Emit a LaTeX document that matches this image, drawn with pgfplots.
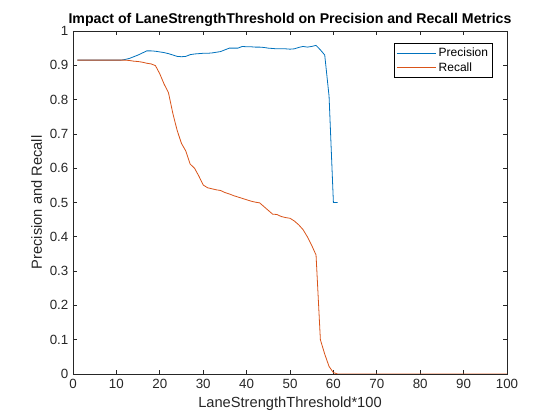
\documentclass[border=0pt]{standalone}
\usepackage{fontspec}
\setmainfont{Liberation Sans}
\usepackage{pgfplots}
\pgfplotsset{compat=1.18}
\definecolor{mblue}{rgb}{0,0.447,0.741}
\definecolor{morange}{rgb}{0.85,0.325,0.098}
\definecolor{axgray}{rgb}{0.15,0.15,0.15}
\begin{document}
\begin{tikzpicture}
\path[use as bounding box] (-54.75pt,-34.5pt) rectangle (365.25pt,280.5pt);
\begin{axis}[
  at={(0pt,0pt)}, anchor=south west,
  scale only axis, width=325.5pt, height=257.25pt,
  xmin=0, xmax=100, ymin=0, ymax=1,
  xtick={0,10,...,100},
  ytick={0,0.1,0.2,0.3,0.4,0.5,0.6,0.7,0.8,0.9,1},
  yticklabels={0,0.1,0.2,0.3,0.4,0.5,0.6,0.7,0.8,0.9,1},
  /pgf/number format/assume math mode=true,
  tick align=inside,
  major tick length=3.3pt,
  axis line style={axgray, line width=0.5pt},
  tick style={axgray, line width=0.5pt},
  ticklabel style={font=\fontsize{10}{12}\selectfont, text=axgray},
  xlabel={LaneStrengthThreshold*100},
  ylabel={Precision and Recall},
  ylabel style={xshift=0pt, yshift=-1pt},
  label style={font=\fontsize{11}{13}\selectfont, text=axgray},
  title={\textbf{Impact of LaneStrengthThreshold on Precision and Recall Metrics}},
  title style={font=\fontsize{10.6}{12.5}\selectfont, yshift=-6.5pt},
  legend style={at={(axis description cs:1,1)}, anchor=north east, xshift=-10.5pt, yshift=-8.8pt,
    draw=black, fill=white, font=\fontsize{9}{10}\selectfont, inner sep=1.5pt,
    row sep=-1pt},
  legend cell align=left,
  legend image code/.code={\draw[#1] (0pt,0pt) -- (29pt,0pt);},
]
\addplot[mblue, line width=0.6pt] coordinates {
(1,0.915) (2,0.915) (3,0.915) (4,0.915) (5,0.915) (6,0.915) (7,0.915) (8,0.915) (9,0.915) (10,0.915)
(11,0.915) (12,0.917) (13,0.920) (14,0.925) (15,0.930) (16,0.936) (17,0.942) (18,0.942) (19,0.941) (20,0.939)
(21,0.937) (22,0.934) (23,0.930) (24,0.926) (25,0.925) (26,0.926) (27,0.931) (28,0.933) (29,0.934) (30,0.935)
(31,0.935) (32,0.936) (33,0.938) (34,0.940) (35,0.945) (36,0.950) (37,0.950) (38,0.950) (39,0.955) (40,0.954)
(41,0.954) (42,0.953) (43,0.953) (44,0.952) (45,0.950) (46,0.949) (47,0.948) (48,0.948) (49,0.948) (50,0.947)
(51,0.948) (52,0.952) (53,0.955) (54,0.953) (55,0.955) (56,0.958) (57,0.945) (58,0.930) (59,0.810) (60,0.500)
(61,0.500)
};
\addlegendentry{Precision}
\addplot[morange, line width=0.6pt] coordinates {
(1,0.915) (2,0.915) (3,0.915) (4,0.915) (5,0.915) (6,0.915) (7,0.915) (8,0.915) (9,0.915) (10,0.915)
(11,0.915) (12,0.915) (13,0.914) (14,0.912) (15,0.911) (16,0.909) (17,0.906) (18,0.904) (19,0.899) (20,0.875)
(21,0.845) (22,0.820) (23,0.760) (24,0.710) (25,0.672) (26,0.650) (27,0.612) (28,0.600) (29,0.577) (30,0.551)
(31,0.543) (32,0.540) (33,0.537) (34,0.535) (35,0.529) (36,0.525) (37,0.520) (38,0.516) (39,0.512) (40,0.508)
(41,0.504) (42,0.501) (43,0.499) (44,0.488) (45,0.477) (46,0.466) (47,0.465) (48,0.459) (49,0.456) (50,0.454)
(51,0.446) (52,0.435) (53,0.421) (54,0.400) (55,0.375) (56,0.347) (57,0.100) (58,0.058) (59,0.022) (60,0.004)
(61,0) (62,0) (65,0) (70,0) (75,0) (80,0) (85,0) (90,0) (95,0) (100,0)
};
\addlegendentry{Recall}
\end{axis}
\end{tikzpicture}
\end{document}
